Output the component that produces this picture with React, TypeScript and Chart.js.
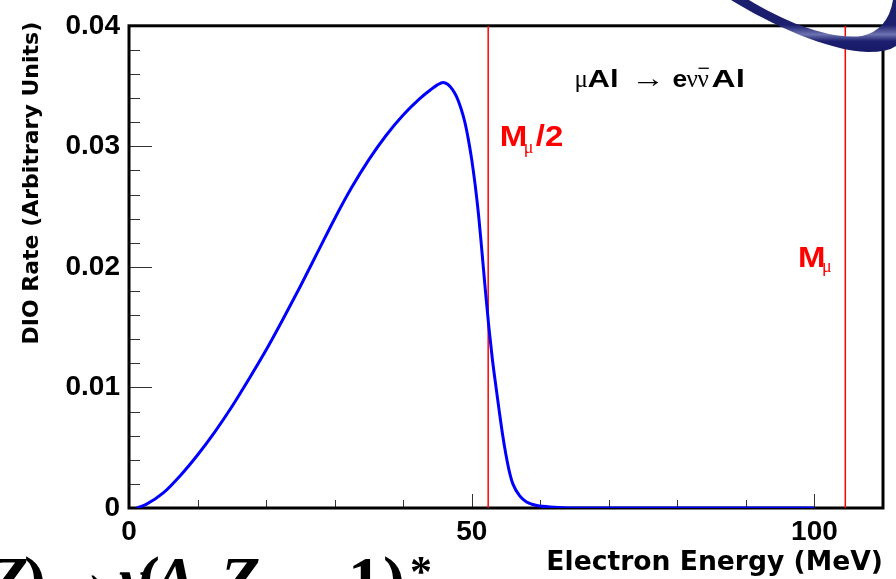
import React, { useEffect, useRef } from 'react';
import { Chart, registerables } from 'chart.js';

Chart.register(...registerables);

// ---- data ----
const energyMeV = [1.1, 2.5, 5, 7.5, 10, 12.5, 15, 17.5, 20, 22.5, 25, 27.5, 30, 32.5, 35, 37.5, 40, 42.5, 44, 45, 45.8, 46.5, 47.2, 47.8, 48.4, 49.0, 49.5, 50.0, 50.5, 51.0, 51.5, 52.0, 52.5, 53.0, 53.5, 54.0, 54.5, 55.0, 55.5, 56.0, 57.0, 58.0, 59.5, 62.0, 66, 75, 85, 100];
const dioRate = [0, 0.0003, 0.00125, 0.0027, 0.0044, 0.0063, 0.0084, 0.0107, 0.0131, 0.0157, 0.0184, 0.0212, 0.0240, 0.0266, 0.0289, 0.0309, 0.0326, 0.0340, 0.0347, 0.0351, 0.0353, 0.03515, 0.0347, 0.0341, 0.0332, 0.0320, 0.0306, 0.0289, 0.0268, 0.0243, 0.0212, 0.0180, 0.0150, 0.0124, 0.0102, 0.0081, 0.0061, 0.0044, 0.0030, 0.0020, 0.0010, 0.0005, 0.0002, 0.00007, 0, 0, 0, 0];

const xTickValues = [0, 50, 100];
const xTickLabels = ['0', '50', '100'];
const yTickValues = [0, 0.01, 0.02, 0.03, 0.04];
const yTickLabels = ['0', '0.01', '0.02', '0.03', '0.04'];
const xMin = 0;
const xMax = 110;
const yMin = 0;
const yMax = 0.04;
const xMinorStep = 10;
const yMinorStep = 0.002;

const halfMuonMass = 52.4; // M_mu / 2 marker
const muonMass = 104.5; // M_mu marker

const xTitle = 'Electron Energy (MeV)';
const yTitle = 'DIO Rate (Arbitrary Units)';

// annotation anchors in data coordinates
const processLabelAnchor = { x: 65.0, y: 0.0349 };
const halfMassLabelAnchor = { x: 54.1, y: 0.0300 };
const massLabelAnchor = { x: 97.6, y: 0.0200 };

const SANS_B = '"Liberation Sans", Arial, sans-serif';
const SERIF = '"Liberation Serif", "Times New Roman", serif';

type Piece = { t: string; font: string; dx: number; dy?: number; sx?: number; overline?: boolean; color?: string; align?: CanvasTextAlign };

const processPieces: Piece[] = [
  { t: 'μ', font: `25px ${SERIF}`, dx: 0 },
  { t: 'Al', font: `bold 23px ${SANS_B}`, dx: 13, sx: 1.35 },
  { t: '→', font: `26px ${SERIF}`, dx: 57, sx: 1.3 },
  { t: 'e', font: `bold 23px ${SANS_B}`, dx: 98, sx: 1.15 },
  { t: 'ν', font: `25px ${SERIF}`, dx: 112 },
  { t: 'ν', font: `25px ${SERIF}`, dx: 123, overline: true },
  { t: 'Al', font: `bold 23px ${SANS_B}`, dx: 137, sx: 1.45 },
];

const halfMassPieces: Piece[] = [
  { t: 'M', font: `bold 30px ${SANS_B}`, dx: 0, sx: 1.1 },
  { t: 'μ', font: `18px ${SERIF}`, dx: 24, dy: 7 },
  { t: '/2', font: `bold 30px ${SANS_B}`, dx: 36, sx: 1.1 },
];

const massPieces: Piece[] = [
  { t: 'M', font: `bold 30px ${SANS_B}`, dx: 0, sx: 1.1 },
  { t: 'μ', font: `18px ${SERIF}`, dx: 24, dy: 5 },
];

// clipped slide text at the bottom edge (decoration): (A, Z) → ν(A, Z – 1)*
const slidePieces: Piece[] = [
  { t: 'Z', font: `italic bold 66px ${SERIF}`, dx: -12 },
  { t: ')', font: `bold 66px ${SERIF}`, dx: 24 },
  { t: '→', font: `bold 66px ${SERIF}`, dx: 116, dy: -8, align: 'right' },
  { t: 'ν', font: `italic bold 66px ${SERIF}`, dx: 119 },
  { t: '(', font: `bold 66px ${SERIF}`, dx: 138 },
  { t: 'A', font: `italic bold 66px ${SERIF}`, dx: 153 },
  { t: ',', font: `bold 66px ${SERIF}`, dx: 205 },
  { t: 'Z', font: `italic bold 66px ${SERIF}`, dx: 220 },
  { t: '–', font: `bold 66px ${SERIF}`, dx: 290 },
  { t: '1', font: `bold 66px ${SERIF}`, dx: 348 },
  { t: ')', font: `bold 66px ${SERIF}`, dx: 383 },
  { t: '*', font: `bold 44px ${SERIF}`, dx: 410, dy: -16 },
];

function drawPieces(ctx: CanvasRenderingContext2D, x0: number, y0: number, pieces: Piece[], color: string) {
  ctx.save();
  ctx.textBaseline = 'alphabetic';
  for (const p of pieces) {
    ctx.save();
    ctx.font = p.font;
    ctx.fillStyle = p.color || color;
    ctx.textAlign = p.align || 'left';
    const px = x0 + p.dx;
    const py = y0 + (p.dy || 0);
    ctx.translate(px, py);
    ctx.scale(p.sx || 1, 1);
    ctx.fillText(p.t, 0, 0);
    if (p.overline) {
      const w = ctx.measureText(p.t).width;
      ctx.strokeStyle = p.color || color;
      ctx.lineWidth = 1.3;
      ctx.beginPath();
      ctx.moveTo(1, -19);
      ctx.lineTo(w, -19);
      ctx.stroke();
    }
    ctx.restore();
  }
  ctx.restore();
}

const rootStylePlugin = {
  id: 'rootStyle',
  beforeDatasetsDraw(chart: any) {
    const { ctx, chartArea: a, scales } = chart;
    const x = scales.x;
    const y = scales.y;
    ctx.save();
    ctx.strokeStyle = '#333';
    ctx.lineWidth = 1;
    ctx.beginPath();
    const nx = Math.round((xMax - xMin) / xMinorStep);
    for (let i = 0; i <= nx; i++) {
      const v = xMin + i * xMinorStep;
      const px = Math.round(x.getPixelForValue(v)) + 0.5;
      const len = xTickValues.includes(v) ? 14 : 8;
      ctx.moveTo(px, a.bottom);
      ctx.lineTo(px, a.bottom - len);
    }
    const ny = Math.round((yMax - yMin) / yMinorStep);
    for (let i = 0; i <= ny; i++) {
      const v = yMin + i * yMinorStep;
      const py = Math.round(y.getPixelForValue(v)) + 0.5;
      const len = i % 5 === 0 ? 23 : 11;
      ctx.moveTo(a.left, py);
      ctx.lineTo(a.left + len, py);
    }
    ctx.stroke();
    ctx.strokeStyle = '#000';
    ctx.lineWidth = 3;
    ctx.strokeRect(a.left, a.top, a.right - a.left, a.bottom - a.top);
    ctx.restore();
  },
  afterDatasetsDraw(chart: any) {
    const { ctx, scales } = chart;
    const x = scales.x;
    const y = scales.y;
    drawPieces(ctx, x.getPixelForValue(processLabelAnchor.x), y.getPixelForValue(processLabelAnchor.y), processPieces, '#000');
    drawPieces(ctx, x.getPixelForValue(halfMassLabelAnchor.x), y.getPixelForValue(halfMassLabelAnchor.y), halfMassPieces, '#ff0000');
    drawPieces(ctx, x.getPixelForValue(massLabelAnchor.x), y.getPixelForValue(massLabelAnchor.y), massPieces, '#ff0000');
  },
  afterDraw(chart: any) {
    const { ctx, chartArea: a } = chart;
    // y axis title, ROOT style: right-aligned to the top of the axis
    ctx.save();
    ctx.translate(32, a.top - 4);
    ctx.rotate(-Math.PI / 2);
    ctx.textAlign = 'right';
    ctx.textBaseline = 'middle';
    ctx.fillStyle = '#000';
    ctx.font = 'bold 22px "DejaVu Sans"';
    ctx.fillText(yTitle, 0, 0);
    ctx.restore();
    // slide decoration: swoosh in the top-right corner
    ctx.save();
    ctx.beginPath();
    ctx.moveTo(731, 0);
    ctx.bezierCurveTo(770, 24, 828, 51, 868, 52);
    ctx.quadraticCurveTo(888, 52, 896, 46);
    ctx.lineTo(896, 0);
    ctx.lineTo(893, 0);
    ctx.quadraticCurveTo(888, 30, 862, 36);
    ctx.bezierCurveTo(830, 40, 785, 22, 749, 0);
    ctx.closePath();
    const g = ctx.createLinearGradient(0, 25, 0, 52);
    g.addColorStop(0, '#1b1f6e');
    g.addColorStop(0.35, '#6d72b0');
    g.addColorStop(0.6, '#1b1f6e');
    g.addColorStop(1, '#161a66');
    ctx.fillStyle = g;
    ctx.fill();
    ctx.restore();
    // slide decoration: clipped formula at the bottom edge
    drawPieces(ctx, 0, 602, slidePieces, '#000');
  },
};

export default function App() {
  const ref = useRef<HTMLCanvasElement | null>(null);

  useEffect(() => {
    document.body.style.margin = '0';
    const canvas = ref.current;
    if (!canvas) return;
    const tickFont = { family: '"Liberation Sans", Arial, sans-serif', weight: 'bold' as const, size: 28 };
    const chart = new Chart(canvas, {
      type: 'line',
      data: {
        datasets: [
          {
            label: 'DIO',
            data: energyMeV.map((e, i) => ({ x: e, y: dioRate[i] })),
            borderColor: '#0000ff',
            borderWidth: 3,
            pointRadius: 0,
            fill: false,
            cubicInterpolationMode: 'monotone',
          },
          {
            label: 'Mmu/2',
            data: [{ x: halfMuonMass, y: yMin }, { x: halfMuonMass, y: yMax }],
            borderColor: '#ff0000',
            borderWidth: 1.5,
            pointRadius: 0,
            fill: false,
          },
          {
            label: 'Mmu',
            data: [{ x: muonMass, y: yMin }, { x: muonMass, y: yMax }],
            borderColor: '#ff0000',
            borderWidth: 1.5,
            pointRadius: 0,
            fill: false,
          },
        ],
      },
      options: {
        responsive: false,
        animation: false,
        layout: { padding: { top: 17, right: 13, bottom: 0, left: 0 } },
        plugins: { legend: { display: false }, tooltip: { enabled: false }, title: { display: false } },
        scales: {
          x: {
            type: 'linear',
            min: xMin,
            max: xMax,
            grid: { display: false, drawTicks: false },
            border: { display: false },
            afterBuildTicks: (s: any) => { s.ticks = xTickValues.map((v) => ({ value: v })); },
            afterFit: (s: any) => { s.height = 71; },
            ticks: {
              font: tickFont,
              color: '#000',
              padding: 7,
              maxRotation: 0,
              autoSkip: false,
              callback: (_v: any, i: number) => xTickLabels[i],
            },
            title: {
              display: true,
              text: xTitle,
              align: 'end',
              color: '#000',
              font: { family: 'DejaVu Sans', weight: 'bold', size: 26.6 },
              padding: { top: 0, bottom: 0 },
            },
          },
          y: {
            type: 'linear',
            min: yMin,
            max: yMax,
            grid: { display: false, drawTicks: false },
            border: { display: false },
            afterBuildTicks: (s: any) => { s.ticks = yTickValues.map((v) => ({ value: v })); },
            afterFit: (s: any) => { s.width = 129; },
            ticks: {
              font: tickFont,
              color: '#000',
              padding: 9,
              autoSkip: false,
              callback: (_v: any, i: number) => yTickLabels[i],
            },
            title: { display: false, text: yTitle },
          },
        },
      },
      plugins: [rootStylePlugin],
    } as any);
    return () => chart.destroy();
  }, []);

  return (
    <div style={{ position: 'fixed', left: 0, top: 0, width: 896, height: 579, background: '#fff', overflow: 'hidden' }}>
      <canvas ref={ref} width={896} height={579} style={{ display: 'block' }} />
    </div>
  );
}
